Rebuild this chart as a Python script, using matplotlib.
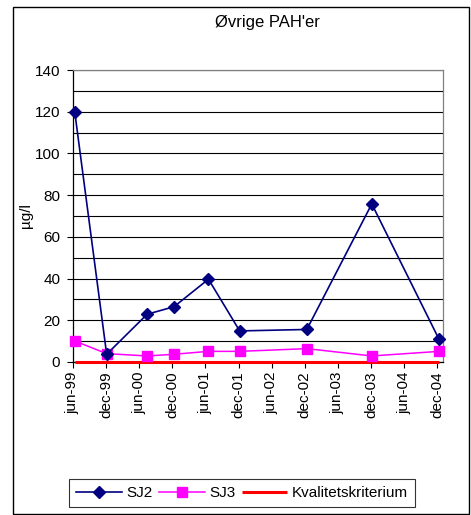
import datetime as dt
import matplotlib
matplotlib.use('Agg')
import matplotlib.pyplot as plt
from matplotlib.patches import Rectangle

plt.rcParams['font.family'] = ['Liberation Sans', 'DejaVu Sans']

# sampling dates and measured values (µg/l)
SAMPLE_DATES = [
    dt.date(1999, 6, 12), dt.date(1999, 12, 5), dt.date(2000, 7, 15),
    dt.date(2000, 12, 10), dt.date(2001, 6, 18), dt.date(2001, 12, 7),
    dt.date(2002, 12, 12), dt.date(2003, 12, 5), dt.date(2004, 12, 10),
]
SJ2 = [120, 3.7, 22.9, 26.5, 39.7, 14.9, 15.6, 75.8, 10.8]
SJ3 = [10.1, 4.0, 2.9, 3.7, 5.1, 5.1, 6.4, 2.9, 5.1]
KVALITETSKRITERIUM = [0, 0, 0, 0, 0, 0, 0, 0, 0]

TICK_DATES = [dt.date(y, m, 1) for y in range(1999, 2005) for m in (6, 12)]
TICK_LABELS = ['jun-99', 'dec-99', 'jun-00', 'dec-00', 'jun-01', 'dec-01',
               'jun-02', 'dec-02', 'jun-03', 'dec-03', 'jun-04', 'dec-04']

fig = plt.figure(figsize=(4.71, 5.15), dpi=100)
ax = fig.add_axes([0.1544, 0.2971, 0.786, 0.5669])

ax.plot(SAMPLE_DATES, KVALITETSKRITERIUM, color='#ff0000', lw=2.2,
        label='Kvalitetskriterium', zorder=6, clip_on=False,
        solid_capstyle='butt')
ax.plot(SAMPLE_DATES, SJ3, color='#ff00ff', lw=1.1, marker='s',
        markersize=6.5, label='SJ3', zorder=7, clip_on=False)
ax.plot(SAMPLE_DATES, SJ2, color='#000080', lw=1.2, marker='D',
        markersize=5.8, label='SJ2', zorder=8, clip_on=False)

ax.set_ylim(0, 140)
ax.set_yticks(range(0, 141, 20))
ax.set_yticks(range(10, 140, 20), minor=True)
ax.grid(True, which='both', axis='y', color='black', lw=0.8)
ax.set_axisbelow(True)

ax.set_xlim(dt.date(1999, 6, 1), dt.date(2004, 12, 31))
ax.set_xticks(TICK_DATES)
ax.set_xticklabels(TICK_LABELS, rotation=90)
ax.tick_params(axis='both', which='major', labelsize=11, length=4,
               width=0.8, color='black', direction='out')
ax.tick_params(axis='y', which='minor', length=0)
ax.tick_params(axis='x', pad=3)
ax.tick_params(axis='y', pad=5)

ax.spines['left'].set_color('black')
ax.spines['bottom'].set_color('black')
ax.spines['right'].set_color('#808080')
ax.spines['top'].set_color('#808080')
for s in ax.spines.values():
    s.set_linewidth(0.9)

ax.set_ylabel('µg/l', fontsize=11)
ax.yaxis.set_label_coords(-0.107, 0.5)
fig.text(267 / 471, 1 - 23 / 515, "Øvrige PAH'er", ha='center',
         va='center', fontsize=12)

handles, labels = ax.get_legend_handles_labels()
order = [2, 1, 0]
leg = fig.legend([handles[i] for i in order], [labels[i] for i in order],
                 loc='center', bbox_to_anchor=(242 / 471, 1 - 493 / 515),
                 ncol=3, fontsize=11, frameon=True, fancybox=False,
                 edgecolor='black', handlelength=3, handletextpad=0.3,
                 columnspacing=0.4, borderpad=0.45)
leg.get_frame().set_linewidth(0.8)

# outer chart border
fig.patches.append(Rectangle((13 / 471, 0.001), 456 / 471, 1 - 7 / 515 - 0.001,
                             transform=fig.transFigure, fill=False,
                             edgecolor='black', lw=1.0))

fig.savefig('out.png', dpi=100)
